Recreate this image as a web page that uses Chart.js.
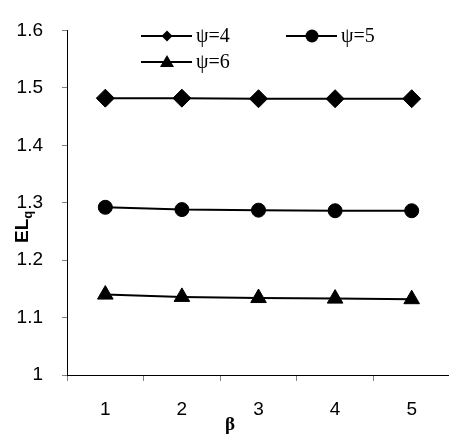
<!DOCTYPE html>
<html>
<head>
<meta charset="utf-8">
<script src="https://cdn.jsdelivr.net/npm/chart.js@4"></script>
<style>
  html, body { margin: 0; padding: 0; background: #fff; overflow: hidden; }
  #wrap { width: 460px; height: 436px; }
</style>
</head>
<body>
<div id="wrap"><canvas id="chart"></canvas></div>
<script>
// values
const betaLabels = ['1', '2', '3', '4', '5']
const psi4 = [1.482, 1.482, 1.481, 1.481, 1.481]
const psi5 = [1.292, 1.288, 1.287, 1.286, 1.286]
const psi6 = [1.140, 1.136, 1.134, 1.133, 1.132]
const seriesNames = ['\u03c8=4', '\u03c8=5', '\u03c8=6']

const tickFont = { family: "'Liberation Sans', Arial, sans-serif", size: 19 }

// draws the legend inside the plot, plus the two axis titles (EL with subscript q, beta)
const decorations = {
  id: 'decorations',
  afterDraw (chart) {
    const ctx = chart.ctx
    ctx.save()
    ctx.fillStyle = '#000'
    ctx.strokeStyle = '#000'

    const items = [
      { name: seriesNames[0], style: 'diamond', x: 141, y: 36 },
      { name: seriesNames[1], style: 'circle', x: 286, y: 36 },
      { name: seriesNames[2], style: 'triangle', x: 141, y: 62 }
    ]
    items.forEach(it => {
      ctx.lineWidth = 2
      ctx.beginPath()
      ctx.moveTo(it.x, it.y)
      ctx.lineTo(it.x + 51, it.y)
      ctx.stroke()
      const cx = it.x + 26
      ctx.beginPath()
      if (it.style === 'diamond') {
        ctx.moveTo(cx, it.y - 5.5); ctx.lineTo(cx + 5.5, it.y)
        ctx.lineTo(cx, it.y + 5.5); ctx.lineTo(cx - 5.5, it.y)
      } else if (it.style === 'circle') {
        ctx.arc(cx, it.y, 6.5, 0, Math.PI * 2)
      } else {
        ctx.moveTo(cx, it.y - 7); ctx.lineTo(cx + 7, it.y + 5); ctx.lineTo(cx - 7, it.y + 5)
      }
      ctx.closePath()
      ctx.fill()
      ctx.font = "20px 'Liberation Serif', 'Times New Roman', serif"
      ctx.textBaseline = 'middle'
      ctx.textAlign = 'left'
      ctx.fillText(it.name, it.x + 55, it.y + 1)
    })

    // y axis title: EL with subscript q, rotated
    ctx.translate(28, 243)
    ctx.rotate(-Math.PI / 2)
    ctx.textBaseline = 'alphabetic'
    ctx.font = "bold 19px 'Liberation Sans', Arial, sans-serif"
    ctx.fillText('EL', 0, 0)
    const w = ctx.measureText('EL').width
    ctx.font = "bold 13px 'Liberation Sans', Arial, sans-serif"
    ctx.fillText('q', w, 4)
    ctx.setTransform(1, 0, 0, 1, 0, 0)

    // x axis title
    ctx.font = "bold 19px 'Liberation Serif', 'Times New Roman', serif"
    ctx.textAlign = 'center'
    ctx.textBaseline = 'alphabetic'
    ctx.fillText('\u03b2', 230, 430)
    ctx.restore()
  }
}

function makeSet (label, data, pointStyle, radius) {
  return {
    label,
    data,
    borderColor: '#000',
    backgroundColor: '#000',
    borderWidth: 2,
    pointStyle,
    pointRadius: radius,
    pointHoverRadius: radius,
    pointBackgroundColor: '#000',
    pointBorderColor: '#000',
    pointBorderWidth: 1,
    tension: 0
  }
}

new Chart(document.getElementById('chart'), {
  type: 'line',
  data: {
    labels: betaLabels,
    datasets: [
      makeSet(seriesNames[0], psi4, 'rectRot', 9),
      makeSet(seriesNames[1], psi5, 'circle', 7),
      makeSet(seriesNames[2], psi6, 'triangle', 9)
    ]
  },
  options: {
    responsive: true,
    maintainAspectRatio: false,
    animation: false,
    layout: { padding: { top: 19, left: 0, right: 0, bottom: 0 } },
    plugins: {
      legend: { display: false },
      tooltip: { enabled: false }
    },
    scales: {
      x: {
        offset: true,
        grid: { offset: true, drawOnChartArea: false, drawTicks: true, tickLength: 6, tickColor: '#808080' },
        border: { color: '#000', width: 1 },
        ticks: { color: '#000', font: tickFont, padding: 17, maxRotation: 0 },
        afterFit (scale) { scale.height = 61 }
      },
      y: {
        min: 1,
        max: 1.6,
        grid: { drawOnChartArea: false, drawTicks: true, tickLength: 5, tickColor: '#808080' },
        border: { color: '#000', width: 1 },
        ticks: {
          stepSize: 0.1,
          color: '#000',
          font: tickFont,
          padding: 19,
          callback: v => Math.round(v * 10) / 10
        },
        afterFit (scale) { scale.width = 67 }
      }
    }
  },
  plugins: [decorations]
})
</script>
</body>
</html>
